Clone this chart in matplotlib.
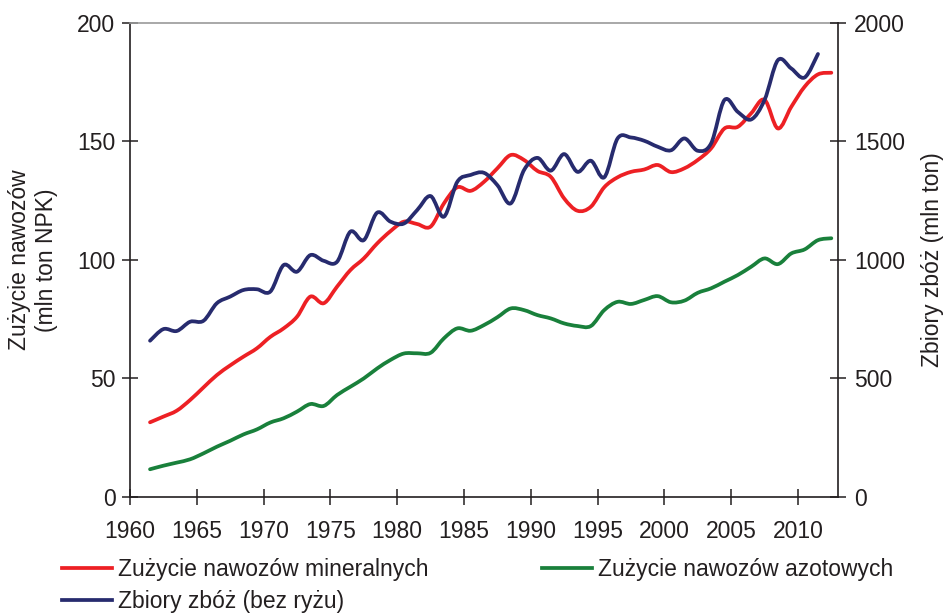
#! /usr/bin/env python3

import matplotlib
matplotlib.use('Agg')
import matplotlib.pyplot as plt
import numpy as np
from matplotlib.path import Path
from matplotlib.patches import PathPatch
from matplotlib.lines import Line2D

plt.rcParams['font.family'] = ['Liberation Sans', 'DejaVu Sans']

years = np.arange(1961, 2013)

# Zużycie nawozów mineralnych (mln ton NPK)
npk = [31.5, 33.9, 36.4, 40.9, 46.2, 51.4, 55.5, 59.2, 62.7, 67.5,
       71.1, 76.0, 84.5, 81.7, 88.7, 95.7, 100.6, 106.9, 112.1, 116.1,
       115.1, 114.0, 123.8, 130.6, 129.1, 132.9, 138.6, 144.2, 142.1, 137.5,
       135.0, 125.9, 120.7, 122.4, 130.6, 134.8, 137.1, 138.1, 140.0, 137.0,
       138.6, 142.1, 147.0, 155.4, 156.1, 161.8, 167.5, 155.4, 164.5, 173.0,
       178.2, 178.9]

# Zużycie nawozów azotowych (mln ton)
nitrogen = [11.7, 13.2, 14.5, 15.9, 18.4, 21.2, 23.7, 26.4, 28.5, 31.4,
            33.2, 36.0, 39.2, 38.4, 43.0, 46.5, 50.0, 54.2, 57.8, 60.5,
            60.6, 60.8, 66.9, 71.1, 70.1, 72.5, 75.8, 79.5, 78.8, 76.7,
            75.3, 73.2, 72.1, 72.1, 78.8, 82.3, 81.4, 83.1, 84.7, 82.1,
            82.8, 86.1, 88.0, 90.8, 93.6, 97.1, 100.6, 98.2, 102.7, 104.4,
            108.3, 109.1]

# Zbiory zbóż bez ryżu (mln ton), 1961-2011
grain_years = np.arange(1961, 2012)
grain = [659, 708, 700, 739, 743, 817, 845, 873, 876, 866,
         978, 950, 1020, 996, 992, 1119, 1083, 1199, 1161, 1153,
         1210, 1269, 1182, 1329, 1358, 1367, 1315, 1238, 1379, 1430,
         1376, 1446, 1371, 1418, 1348, 1512, 1516, 1502, 1477, 1462,
         1512, 1460, 1491, 1674, 1624, 1592, 1674, 1842, 1807, 1769,
         1868]

labels = ['Zużycie nawozów mineralnych', 'Zużycie nawozów azotowych',
          'Zbiory zbóż (bez ryżu)']
colors = ['#ed2024', '#19803b', '#272b6e']
dark = '#231f20'
fs = 16.5


def smooth_path(x, y):
    # Catmull-Rom through the yearly points, as cubic Bezier segments
    x = np.asarray(x, float)
    y = np.asarray(y, float)
    n = len(x)
    verts = [(x[0], y[0])]
    codes = [Path.MOVETO]
    for i in range(n-1):
        p0 = max(i-1, 0)
        p3 = min(i+2, n-1)
        c1 = (x[i] + (x[i+1]-x[p0])/6, y[i] + (y[i+1]-y[p0])/6)
        c2 = (x[i+1] - (x[p3]-x[i])/6, y[i+1] - (y[p3]-y[i])/6)
        verts += [c1, c2, (x[i+1], y[i+1])]
        codes += [Path.CURVE4]*3
    return Path(verts, codes)


def add_curve(ax, x, y, color):
    patch = PathPatch(smooth_path(x, y), fill=False, edgecolor=color,
                      linewidth=2.7, capstyle='round', joinstyle='round')
    ax.add_patch(patch)


fig = plt.figure(figsize=(9.46, 6.16), dpi=100)
ax = fig.add_axes([130/946, 1-497/616, 708/946, (497-22.7)/616])
ax2 = ax.twinx()

add_curve(ax, years+0.5, npk, colors[0])
add_curve(ax, years+0.5, nitrogen, colors[1])
add_curve(ax2, grain_years+0.5, grain, colors[2])

ax.set_xlim(1960, 2013)
ax.set_ylim(0, 200)
ax2.set_ylim(0, 2000)
ax.set_xticks(np.arange(1960, 2011, 5))
ax.set_yticks(np.arange(0, 201, 50))
ax2.set_yticks(np.arange(0, 2001, 500))

for a in (ax, ax2):
    for s in a.spines.values():
        s.set_linewidth(1.2)
        s.set_color(dark)
ax.spines['right'].set_visible(False)
ax.spines['top'].set_color('#9a9a9a')
ax2.spines['left'].set_visible(False)
ax2.spines['bottom'].set_visible(False)
ax2.spines['top'].set_visible(False)

ax.tick_params(axis='both', direction='inout', length=11, width=1.1,
               colors=dark, labelsize=fs)
ax.tick_params(axis='y', pad=5)
ax.tick_params(axis='x', pad=11)
ax2.tick_params(axis='y', direction='inout', length=11, width=1.1,
                colors=dark, labelsize=fs, pad=6)

fig.text(33/946, 1-260/616, 'Zużycie nawozów\n(mln ton NPK)', rotation=90,
         ha='center', va='center', multialignment='center', fontsize=fs,
         color=dark, linespacing=1.2)
fig.text(932/946, 1-260/616, 'Zbiory zbóż (mln ton)', rotation=90,
         ha='center', va='center', fontsize=fs, color=dark)

handles = [Line2D([], [], color=colors[0], lw=2.7, label=labels[0]),
           Line2D([], [], color=colors[2], lw=2.7, label=labels[2]),
           Line2D([], [], color=colors[1], lw=2.7, label=labels[1])]
fig.legend(handles=handles, ncol=2, loc='upper left',
           bbox_to_anchor=(62/946, 1-558/616), frameon=False,
           handlelength=2.2, handletextpad=0.26, columnspacing=4.92,
           labelspacing=0.4, borderpad=0, borderaxespad=0, fontsize=fs,
           labelcolor=dark)

fig.savefig('out.png', dpi=100)
